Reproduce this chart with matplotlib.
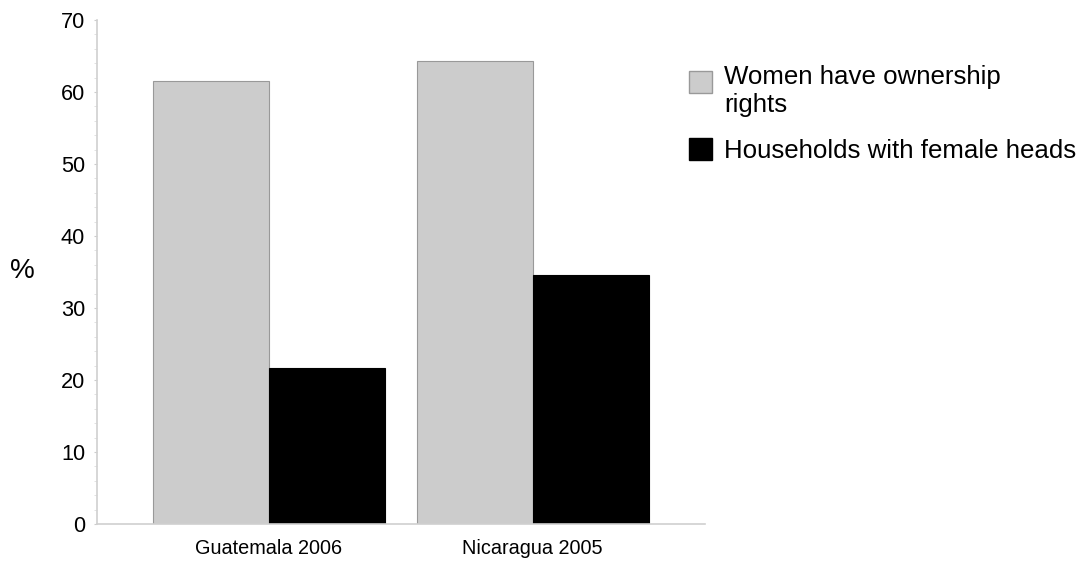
import matplotlib.pyplot as plt
from matplotlib.patches import Rectangle
import numpy as np

plt.rcParams['font.family'] = ['Liberation Sans', 'DejaVu Sans']

countries = ['Guatemala 2006', 'Nicaragua 2005']
ownership = [61.5, 64.3]
female_heads = [21.7, 34.6]
series_labels = ['Women have ownership\nrights', 'Households with female heads']
series_colors = ['#cccccc', 'black']
series_edges = ['#999999', 'black']

fig = plt.figure(figsize=(10.84, 5.64), dpi=100)
ax = fig.add_axes([0.0895, 0.0709, 0.5605, 0.8936])

x = np.arange(len(countries))
w = 0.44
ax.bar(x - w / 2, ownership, w, color=series_colors[0], edgecolor=series_edges[0], linewidth=0.8)
ax.bar(x + w / 2, female_heads, w, color=series_colors[1], edgecolor=series_edges[1], linewidth=0.8)

ax.set_xlim(-0.652, 1.652)
ax.set_ylim(0, 70)
ax.set_yticks(range(0, 71, 10))
ax.set_yticks(range(0, 71, 2), minor=True)
ax.set_xticks(x)
ax.set_xticklabels(countries, fontsize=14.3)
ax.tick_params(axis='x', length=0, pad=11)
ax.tick_params(axis='y', which='major', labelsize=15.7, length=2.5, color='#cccccc', pad=6)
ax.tick_params(axis='y', which='minor', length=2.5, color='#dddddd')

for side in ['top', 'right']:
    ax.spines[side].set_visible(False)
for side in ['left', 'bottom']:
    ax.spines[side].set_color('#d0d0d0')
    ax.spines[side].set_linewidth(1.2)

fig.text(0.009, 0.52, '%', fontsize=20, va='center', ha='left')

# legend drawn by hand so the swatch sits level with the first text line
legend_top = [93, 160]  # swatch bottom edges in pixels from the top
legend_base = [112, 158]  # last-line baselines in pixels from the top
for i, label in enumerate(series_labels):
    fig.add_artist(Rectangle((689 / 1084, 1 - legend_top[i] / 564), 23 / 1084, 22 / 564,
                             transform=fig.transFigure, facecolor=series_colors[i],
                             edgecolor=series_edges[i], linewidth=1.0))
    fig.text(724 / 1084, 1 - legend_base[i] / 564, label, fontsize=18.6,
             va='baseline', ha='left', linespacing=1.22)

fig.savefig('out.png', dpi=100)
